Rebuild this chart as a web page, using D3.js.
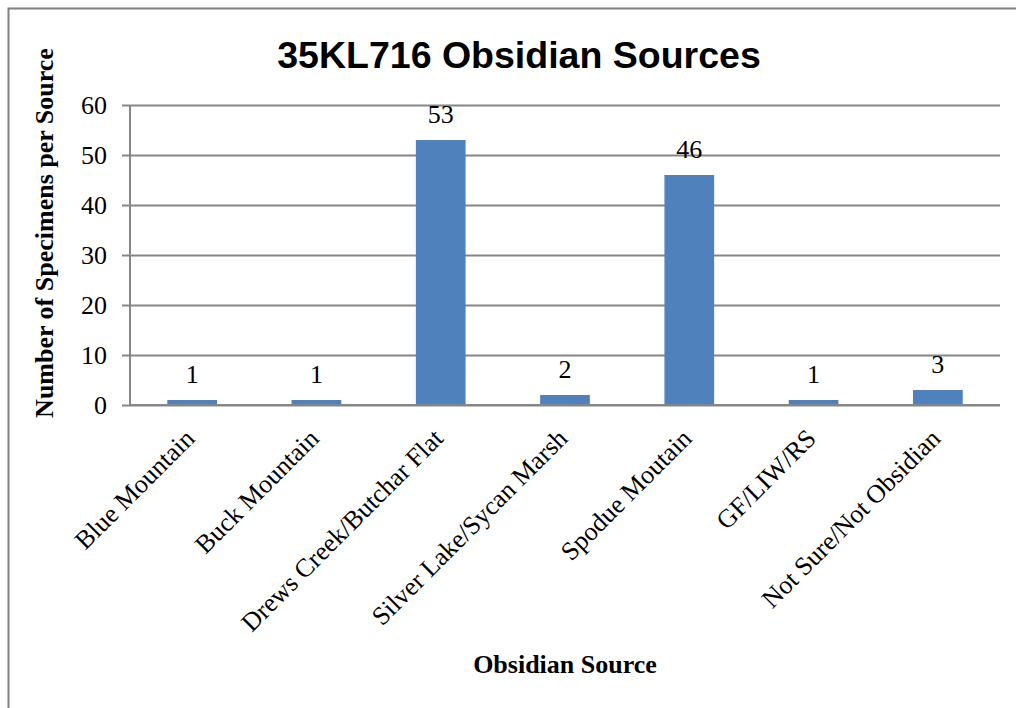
<!DOCTYPE html>
<html><head><meta charset="utf-8">
<script src="https://cdn.jsdelivr.net/npm/d3@7"></script>
<style>body{margin:0;background:#fff}svg{display:block}</style>
</head><body>
<script>
const categories = ["Blue Mountain","Buck Mountain","Drews Creek/Butchar Flat","Silver Lake/Sycan Marsh","Spodue Moutain","GF/LIW/RS","Not Sure/Not Obsidian"];
const counts = [1,1,53,2,46,1,3];
const yTicks = [0,10,20,30,40,50,60];
const title = "35KL716 Obsidian Sources";
const xTitle = "Obsidian Source";
const yTitle = "Number of Specimens per Source";

const W = 1016, H = 708;
const svg = d3.select("body").append("svg").attr("width", W).attr("height", H);
svg.append("rect").attr("width", W).attr("height", H).attr("fill", "#fff");
svg.append("rect").attr("x", 8.5).attr("y", 8.5).attr("width", 1100).attr("height", 800)
  .attr("fill", "none").attr("stroke", "#808080").attr("stroke-width", 2);

const m = {left: 130, right: 1000, top: 105, bottom: 405};
const x = d3.scaleBand().domain(categories).range([m.left, m.right]).paddingInner(0.6).paddingOuter(0.3);
const y = d3.scaleLinear().domain([0, 60]).range([m.bottom, m.top]);

const serif = "'Liberation Serif','Times New Roman',serif";

// gridlines + y axis
const yAxis = d3.axisLeft(y).tickValues(yTicks).tickSize(m.right - m.left + 8).tickSizeOuter(0).tickPadding(15);
const gy = svg.append("g").attr("transform", `translate(${m.right},0)`).call(yAxis);
gy.select(".domain").remove();
gy.selectAll(".tick line").attr("stroke", "#868686").attr("stroke-width", 2);
gy.selectAll(".tick text").attr("font-family", serif).attr("font-size", 26).attr("fill", "#000");

// y axis line
svg.append("line").attr("x1", m.left).attr("x2", m.left).attr("y1", m.top).attr("y2", m.bottom)
  .attr("stroke", "#868686").attr("stroke-width", 2);

// bars
svg.selectAll("rect.bar").data(counts).join("rect").attr("class", "bar")
  .attr("x", (d, i) => x(categories[i])).attr("width", x.bandwidth())
  .attr("y", d => y(d)).attr("height", d => y(0) - y(d)).attr("fill", "#4F81BD");

// x axis line redraw on top
svg.append("line").attr("x1", m.left).attr("x2", m.right).attr("y1", m.bottom).attr("y2", m.bottom)
  .attr("stroke", "#868686").attr("stroke-width", 2);

// data labels
svg.selectAll("text.lbl").data(counts).join("text").attr("class", "lbl")
  .attr("x", (d, i) => x(categories[i]) + x.bandwidth() / 2).attr("y", d => y(d) - 17)
  .attr("text-anchor", "middle").attr("font-family", serif).attr("font-size", 26).text(d => d);

// category labels
svg.selectAll("text.cat").data(categories).join("text").attr("class", "cat")
  .attr("transform", d => `translate(${x(d) + x.bandwidth() / 2 + 4},${m.bottom + 35}) rotate(-45)`)
  .attr("text-anchor", "end").attr("font-family", serif).attr("font-size", 26).text(d => d);

// titles
svg.append("text").attr("x", 519).attr("y", 68).attr("text-anchor", "middle")
  .attr("font-family", "'Liberation Sans',Arial,sans-serif").attr("font-weight", "bold").attr("font-size", 37.5).text(title);
svg.append("text").attr("x", 565).attr("y", 673).attr("text-anchor", "middle")
  .attr("font-family", serif).attr("font-weight", "bold").attr("font-size", 26).text(xTitle);
svg.append("text").attr("transform", "translate(53,233) rotate(-90)").attr("text-anchor", "middle")
  .attr("font-family", serif).attr("font-weight", "bold").attr("font-size", 26).text(yTitle);
</script>
</body></html>
